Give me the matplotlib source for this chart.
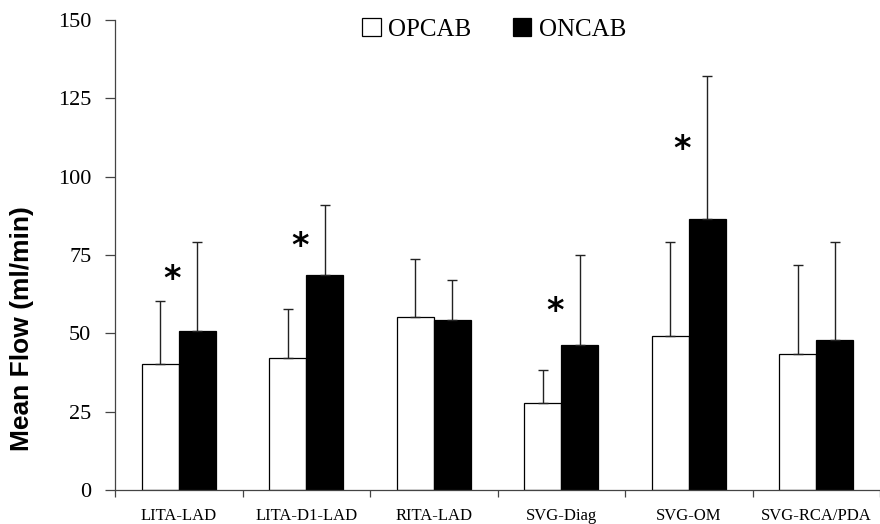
import matplotlib
matplotlib.use("Agg")
import matplotlib.pyplot as plt
from matplotlib.patches import Patch
import numpy as np

categories = ["LITA-LAD", "LITA-D1-LAD", "RITA-LAD", "SVG-Diag", "SVG-OM", "SVG-RCA/PDA"]
opcab_mean = [40.1, 42.2, 55.3, 27.7, 49.0, 43.4]
opcab_sd = [20.3, 15.7, 18.5, 10.6, 30.2, 28.5]
oncab_mean = [50.6, 68.5, 54.3, 46.2, 86.6, 47.9]
oncab_sd = [28.6, 22.6, 12.6, 28.8, 45.6, 31.1]
star_groups = [0, 1, 3, 4]
star_y = [70.2, 80.9, 60.0, 111.7]
yticks = [0, 25, 50, 75, 100, 125, 150]

serif = "Liberation Serif"

fig = plt.figure(figsize=(8.8, 5.24), dpi=100)
ax = fig.add_axes([115 / 880, 1 - 490 / 524, 1 - 115 / 880, (490 - 20) / 524])

x = np.arange(len(categories))
w = 0.29
ekw = dict(ecolor="#222222", elinewidth=1.0, capsize=3.5, capthick=1.0)
ax.bar(x - w / 2, opcab_mean, w, color="white", edgecolor="black", linewidth=0.9,
       yerr=[np.zeros(len(x)), opcab_sd], error_kw=ekw, zorder=2)
ax.bar(x + w / 2, oncab_mean, w, color="black", edgecolor="black", linewidth=0.9,
       yerr=[np.zeros(len(x)), oncab_sd], error_kw=ekw, zorder=2)

fs_star = 24
for g, sy in zip(star_groups, star_y):
    ax.annotate("*", (g - 0.05, sy), xytext=(0, -0.58 * fs_star), textcoords="offset points",
                ha="center", va="baseline", fontsize=fs_star, fontweight="bold",
                family="DejaVu Sans")

ax.set_xlim(-0.5, 5.48)
ax.set_ylim(0, 150)
ax.set_yticks(yticks)
ax.set_yticklabels([str(t) for t in yticks], family=serif, fontsize=16)
ax.set_xticks(x)
ax.set_xticklabels(categories, family=serif, fontsize=12)
ax.set_xticks(np.arange(-0.5, 5.6, 1.0), minor=True)
ax.tick_params(axis="x", which="major", length=0, pad=13)
ax.tick_params(axis="x", which="minor", length=5, width=0.9, color="#444444", direction="out")
ax.tick_params(axis="y", length=7, width=0.9, color="#444444", pad=10, direction="out")

for s in ["top", "right"]:
    ax.spines[s].set_visible(False)
for s in ["left", "bottom"]:
    ax.spines[s].set_color("#444444")
    ax.spines[s].set_linewidth(0.9)

ax.set_ylabel("Mean Flow (ml/min)", family="Liberation Sans", fontweight="bold", fontsize=19)
ax.yaxis.label.set_verticalalignment("center")
ax.yaxis.set_label_coords(-0.122, 0.343)

handles = [Patch(facecolor="white", edgecolor="black", linewidth=0.9, label="OPCAB"),
           Patch(facecolor="black", edgecolor="black", linewidth=0.9, label="ONCAB")]
leg = ax.legend(handles=handles, loc="upper center", bbox_to_anchor=((494 - 115) / 765, 1.052),
                ncol=2, frameon=False, handlelength=0.75, handleheight=0.75, handletextpad=0.3,
                columnspacing=1.65, prop={"family": serif, "size": 18})

fig.savefig("out.png", dpi=100, facecolor="white")
